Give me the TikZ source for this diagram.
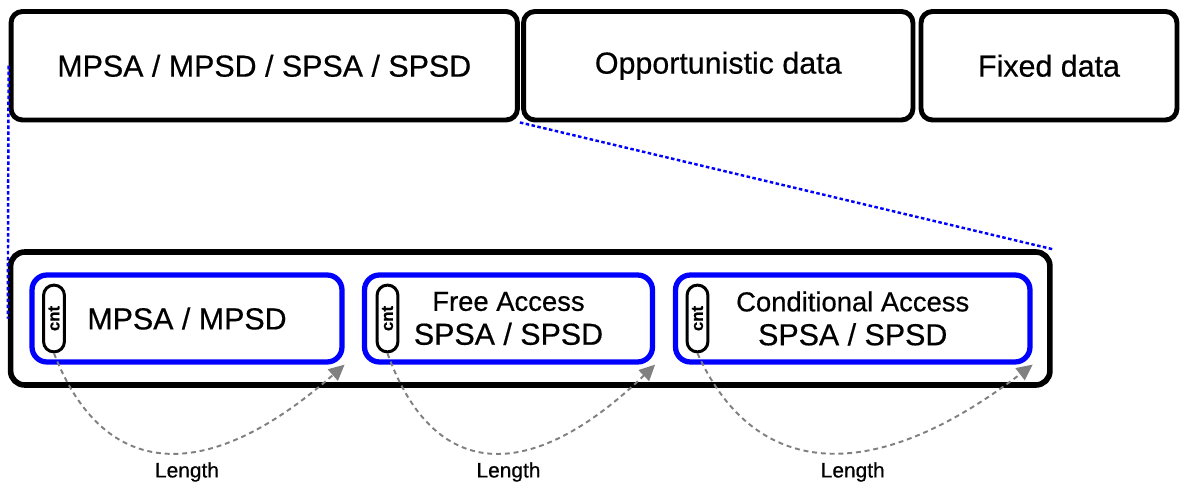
\documentclass[tikz,border=0pt]{standalone}
\usepackage{fontspec}
\setmainfont{Liberation Sans}[FakeBold=0.5]
\usetikzlibrary{arrows.meta}

\begin{document}
\begin{tikzpicture}[x=0.02cm,y=-0.02cm,
    field/.style={draw,line width=2.8pt,rounded corners=6.5pt,minimum height=2.17cm,font=\fontsize{17.3}{19.3}\selectfont},
    subfield/.style={draw=blue,line width=3pt,rounded corners=8.5pt,minimum height=1.74cm,align=center,font=\fontsize{17.3}{19.3}\selectfont},
    cntbox/.style={draw,line width=1.7pt,rounded corners=5.9pt,minimum width=11.9pt,minimum height=38pt,inner sep=0pt,font=\fontsize{9.6}{10}\selectfont\bfseries},
    lenarrow/.style={gray,dash pattern=on 2.8pt off 2.2pt,line width=1.1pt,-{Triangle[length=9pt,width=8.5pt]}},
    zoomline/.style={blue,dash pattern=on 2pt off 1.4pt,line width=1.4pt}]
        \fill[white] (0,0) rectangle (1184,485);
        % top row
        \node[field,minimum width=10.13cm] (hdr) at (264.25,65.75) {MPSA / MPSD / SPSA / SPSD};
        \node[field,minimum width=7.79cm] (opp) at (718.25,65.75) {Opportunistic data};
        \node[field,minimum width=5.12cm] (fix) at (1049,65.75) {Fixed data};
        % expanded header
        \node[draw,line width=3.2pt,rounded corners=8pt,minimum width=20.79cm,minimum height=2.66cm] (low) at (530.25,318.5) {};
        \node[subfield,minimum width=6.2cm] (mp) at (187,318.5) {MPSA / MPSD};
        \node[subfield,minimum width=5.76cm] (fa) at (508.5,318.5) {{\fontsize{15.6}{19.3}\selectfont Free Access}\\SPSA / SPSD};
        \node[subfield,minimum width=7.09cm] (ca) at (852.75,318.5) {{\fontsize{15.6}{19.3}\selectfont Conditional Access}\\SPSA / SPSD};
        \node[cntbox] (cmp) at (54,318.5) {\rotatebox{90}{cnt}};
        \node[cntbox] (cfa) at (387.5,318.5) {\rotatebox{90}{cnt}};
        \node[cntbox] (cca) at (697.5,318.5) {\rotatebox{90}{cnt}};
        % lengths
        \draw[lenarrow] (cmp.south) .. controls +(50,128) and +(-137,121) .. (mp.south east);
        \draw[lenarrow] (cfa.south) .. controls +(46,128) and +(-125,121) .. (fa.south east);
        \draw[lenarrow] (cca.south) .. controls +(58,128) and +(-158,121) .. (ca.south east);
        \node at (187,472) [font=\fontsize{11.9}{13}\selectfont] (lmp) {Length};
        \node at (508.5,472) [font=\fontsize{11.9}{13}\selectfont] (lfa) {Length};
        \node at (852.75,472) [font=\fontsize{11.9}{13}\selectfont] (lca) {Length};
        % zoom lines
        \draw[zoomline] (hdr.west) -- (low.west);
        \draw[zoomline] (hdr.south east) -- (low.north east);
    \end{tikzpicture}
\end{document}
